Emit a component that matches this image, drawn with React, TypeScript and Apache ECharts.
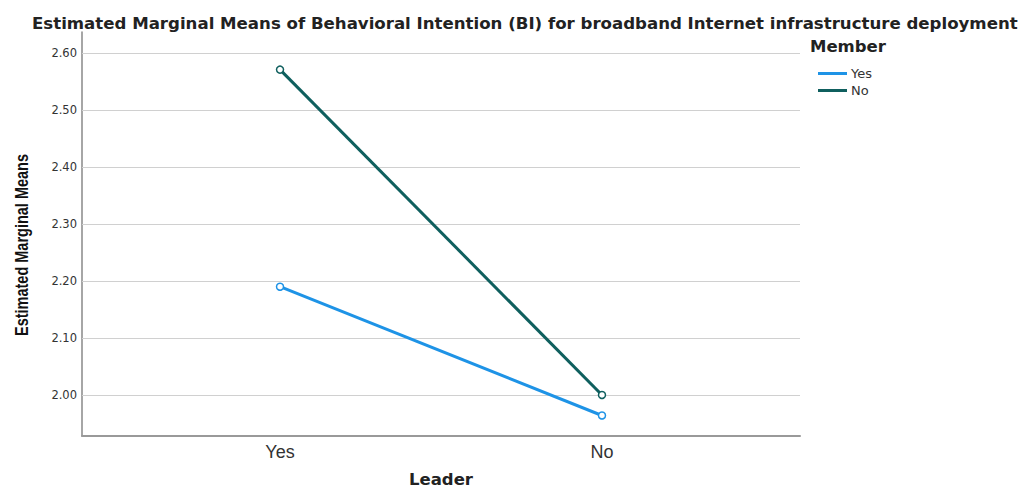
import React, { useEffect, useRef } from "react";
import * as echarts from "echarts";

const leaderCategories = ["Yes", "No"];
const memberLabels = ["Yes", "No"];
const memberYes = [2.19, 1.964];
const memberNo = [2.571, 2.0];
const yTicks = [2.0, 2.1, 2.2, 2.3, 2.4, 2.5, 2.6];

const BLUE = "#1E93E6";
const TEAL = "#0F5F5E";

export default function App() {
  const ref = useRef<HTMLDivElement>(null);
  useEffect(() => {
    const chart = echarts.init(ref.current!, undefined, { renderer: "svg" });
    const toPts = (arr: number[]) => arr.map((v, i) => [i, v]);
    const wide = "'DejaVu Sans', Verdana, sans-serif";
    chart.setOption({
      animation: false,
      backgroundColor: "#ffffff",
      title: {
        text: "Estimated Marginal Means of Behavioral Intention (BI) for broadband Internet infrastructure deployment",
        left: 27,
        top: 10,
        textStyle: { fontFamily: wide, fontSize: 16.6, fontWeight: "bold", color: "#222" },
      },
      legend: {
        orient: "vertical",
        left: 813,
        top: 62,
        itemWidth: 29,
        itemHeight: 3,
        itemGap: 4,
        icon: "rect",
        data: [
          { name: memberLabels[0], itemStyle: { color: BLUE, borderWidth: 0 } },
          { name: memberLabels[1], itemStyle: { color: TEAL, borderWidth: 0 } },
        ],
        textStyle: { fontFamily: wide, fontSize: 13, color: "#333", padding: [0, 0, 0, -1] },
      },
      graphic: [
        {
          type: "text",
          left: 810,
          top: 38,
          style: { text: "Member", font: "bold 16.5px 'DejaVu Sans', Verdana, sans-serif", fill: "#222" },
        },
        {
          type: "text",
          x: 21,
          y: 245,
          rotation: Math.PI / 2,
          scaleY: 1.25,
          style: {
            text: "Estimated Marginal Means",
            font: "bold 14.5px 'Liberation Sans', Arial, sans-serif",
            fill: "#111",
            align: "center",
            verticalAlign: "middle",
          },
        },
      ],
      grid: { left: 82, right: 229, top: 32, bottom: 55, outerBoundsMode: "none" },
      xAxis: {
        type: "value",
        min: -0.615,
        max: 1.615,
        name: "Leader",
        nameLocation: "middle",
        nameGap: 35,
        nameTextStyle: { fontFamily: wide, fontSize: 16.5, fontWeight: "bold", color: "#222" },
        axisLine: { show: true, onZero: false, lineStyle: { color: "#999", width: 2 } },
        axisTick: { show: false },
        splitLine: { show: false },
        axisLabel: {
          customValues: [0, 1],
          formatter: (v: number) => leaderCategories[Math.round(v)] ?? "",
          fontFamily: "'Liberation Sans', Arial, sans-serif",
          fontSize: 18,
          color: "#333",
          margin: 7,
        },
      },
      yAxis: {
        type: "value",
        min: 1.928,
        max: 2.637,
        axisLine: { show: true, onZero: false, lineStyle: { color: "#888", width: 1.5 } },
        axisTick: { show: false },
        splitLine: { show: false },
        axisLabel: {
          customValues: yTicks,
          formatter: (v: number) => v.toFixed(2),
          fontFamily: wide,
          fontSize: 11.5,
          color: "#333",
          margin: 5,
        },
      },
      series: [
        {
          name: memberLabels[0],
          type: "line",
          data: toPts(memberYes),
          color: BLUE,
          lineStyle: { width: 3, color: BLUE },
          symbol: "circle",
          symbolSize: 7,
          itemStyle: { color: "#ffffff", borderColor: BLUE, borderWidth: 1.5 },
          z: 3,
          markLine: {
            silent: true,
            symbol: ["none", "none"],
            label: { show: false },
            lineStyle: { color: "#d0d0d0", width: 1.2, type: "solid" },
            data: yTicks.map((t) => ({ yAxis: t })),
            z: 1,
          },
        },
        {
          name: memberLabels[1],
          type: "line",
          data: toPts(memberNo),
          color: TEAL,
          lineStyle: { width: 3, color: TEAL },
          symbol: "circle",
          symbolSize: 7,
          itemStyle: { color: "#ffffff", borderColor: TEAL, borderWidth: 1.5 },
          z: 3,
        },
      ],
    });
    return () => chart.dispose();
  }, []);
  return <div ref={ref} style={{ width: 1029, height: 491, position: "absolute", left: 0, top: 0 }} />;
}
